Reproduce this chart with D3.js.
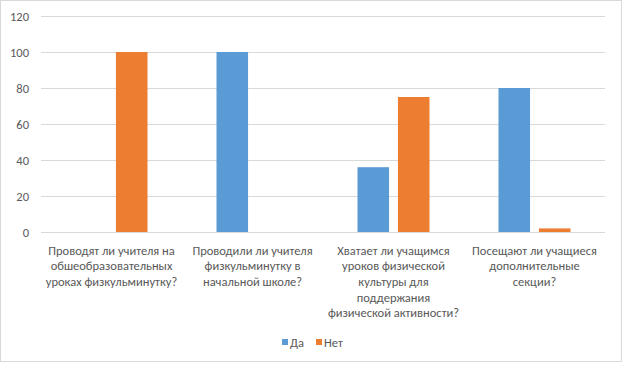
<!DOCTYPE html>
<html><head><meta charset="utf-8">
<script src="https://cdn.jsdelivr.net/npm/d3@7"></script>
<style>body{margin:0;background:#fff}svg{display:block}</style>
</head><body>
<svg id="c" width="624" height="365"></svg>
<script>
const categories = [
  "Проводят ли учителя на\nобшеобразовательных\nуроках физкульминутку?",
  "Проводили ли учителя\nфизкульминутку в\nначальной школе?",
  "Хватает ли учащимся\nуроков физической\nкультуры для\nподдержания\nфизической активности?",
  "Посещают ли учащиеся\nдополнительные\nсекции?"
];
const seriesNames = ["Да", "Нет"];
const daValues = [0, 100, 36, 80];
const netValues = [100, 0, 75, 2];
const yTicks = [0, 20, 40, 60, 80, 100, 120];
const colors = ["#5b9bd5", "#ed7d31"];

const svg = d3.select("#c");
const font = "Carlito, Calibri, 'Liberation Sans Narrow', 'Liberation Sans', sans-serif";
const textColor = "#595959";

svg.append("rect").attr("x",0.5).attr("y",0.5).attr("width",621).attr("height",361)
  .attr("fill","#fff").attr("stroke","#d9d9d9");

const mLeft = 41, mRight = 605, mTop = 16, mBottom = 232;
const x0 = d3.scaleBand().domain(d3.range(categories.length)).range([mLeft,mRight]).paddingInner(0).paddingOuter(0);
const x1 = d3.scaleBand().domain(seriesNames).range([34.5, x0.bandwidth()-34.5]).paddingInner(0.22);
const y = d3.scaleLinear().domain([0,120]).range([mBottom, mTop]);

const yAxis = d3.axisLeft(y).tickValues(yTicks).tickSize(-(mRight-mLeft)).tickPadding(12);
const gy = svg.append("g").attr("transform",`translate(${mLeft},0)`).call(yAxis);
gy.select(".domain").remove();
gy.selectAll(".tick line").attr("stroke","#d9d9d9").attr("stroke-width",1);
gy.selectAll(".tick text").attr("fill",textColor).style("font-family",font).style("font-size","12.5px");

const data = categories.map((c,i)=>({i, vals:[daValues[i], netValues[i]]}));
const groups = svg.append("g").selectAll("g").data(data).join("g")
  .attr("transform", d=>`translate(${x0(d.i)},0)`);
groups.selectAll("rect").data(d=>d.vals.map((v,k)=>({k,v}))).join("rect")
  .attr("x", d=>x1(seriesNames[d.k]))
  .attr("width", x1.bandwidth())
  .attr("y", d=>y(d.v))
  .attr("height", d=>y(0)-y(d.v))
  .attr("fill", d=>colors[d.k]);

svg.append("line").attr("x1",mLeft).attr("x2",mRight).attr("y1",y(0)+0.5).attr("y2",y(0)+0.5).attr("stroke","#d9d9d9");

const xAxis = d3.axisBottom(x0).tickSize(0).tickFormat("");
const gx = svg.append("g").attr("transform",`translate(0,${mBottom})`).call(xAxis);
gx.select(".domain").remove();
gx.selectAll(".tick").each(function(d){
  const t = d3.select(this).append("text").attr("fill",textColor).attr("text-anchor","middle")
    .style("font-family",font).style("font-size","12.5px");
  categories[d].split("\n").forEach((line,j)=>{
    t.append("tspan").attr("x",0).attr("y",22.5+j*15.7).text(line);
  });
});

const legend = svg.append("g").attr("transform","translate(282,339)");
seriesNames.forEach((n,k)=>{
  const g = legend.append("g").attr("transform",`translate(${k*34},0)`);
  g.append("rect").attr("width",6).attr("height",6).attr("fill",colors[k]);
  g.append("text").attr("x",8).attr("y",7.5).attr("fill",textColor)
    .style("font-family",font).style("font-size","12.5px").text(n);
});
</script>
</body></html>
